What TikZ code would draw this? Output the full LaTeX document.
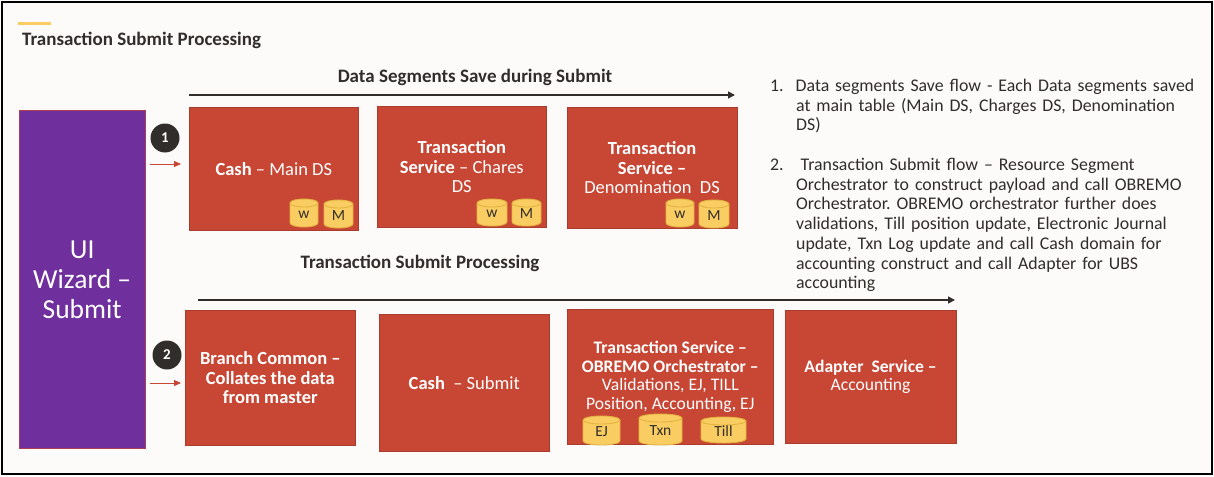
\documentclass[tikz,border=0pt]{standalone}
\usepackage{fontspec}
\setmainfont{Carlito}
\usetikzlibrary{arrows.meta}
\definecolor{redbox}{HTML}{C74634}
\definecolor{purp}{HTML}{6F2F9C}
\definecolor{paper}{HTML}{FCFBFA}
\definecolor{ink}{HTML}{312D2A}
\definecolor{gold}{HTML}{FACD62}
\definecolor{goldline}{HTML}{E2B33F}
\tikzset{
 x=1pt,y=-1pt,
 rbox/.style={draw=redbox!85!black,line width=.6pt,fill=redbox,text=white,align=center,anchor=north west,inner sep=0pt,font=\fontsize{18.5}{19.5}\selectfont},
 rboxs/.style={rbox,font=\fontsize{17.6}{18.9}\selectfont},
 wbox/.style={draw=redbox!70!purp,line width=.8pt,fill=purp,text=white,align=center,anchor=north west,inner sep=0pt,font=\fontsize{27.5}{30}\selectfont},
 dbshape/.style={draw=goldline,fill=gold,line width=.9pt},
 dblabel/.style={text=ink,inner sep=0pt,font=\fontsize{15.5}{16}\selectfont},
 badge/.style={circle,fill=ink,text=white,minimum size=29pt,inner sep=0pt,font=\bfseries\fontsize{15}{15}\selectfont},
 head/.style={text=ink,font=\bfseries\fontsize{19}{19}\selectfont,inner sep=0pt},
 flow/.style={draw=ink,line width=1.5pt,-{Triangle[length=7pt,width=7pt]}},
 redarr/.style={draw=redbox,line width=.8pt,-{Triangle[length=7pt,width=6pt]}},
 notes/.style={text=ink,align=left,anchor=north west,inner sep=0pt,font=\fontsize{17.8}{19.7}\selectfont\frenchspacing,text width=430pt},
}
% x0 y0 x1 y1 name label
\newcommand{\dbcyl}[6]{%
 \pgfmathsetmacro{\rx}{(#3-#1)/2}
 \def\ry{4}
 \draw[dbshape] (#1,#2+\ry) arc[start angle=180,end angle=0,x radius=\rx pt,y radius=\ry pt] -- (#3,#4-\ry) arc[start angle=0,end angle=-180,x radius=\rx pt,y radius=\ry pt] -- cycle;
 \draw[dbshape,fill=none] (#1,#2+\ry) arc[start angle=180,end angle=360,x radius=\rx pt,y radius=\ry pt];
 \node[dblabel] (#5) at ({(#1+#3)/2},{(#2+#4)/2+1.5}) {#6};
}
\begin{document}
\begin{tikzpicture}
\useasboundingbox (0,0) rectangle (1214,476);
\fill[paper] (0,0) rectangle (1214,476);
\draw[black,line width=2pt] (2,2) rectangle (1212,474);
\fill[gold] (18,22) rectangle (51,25);
\node[head,anchor=west] (title) at (22,40) {Transaction Submit Processing};
\node[head,anchor=center] (h1) at (475,77) {Data Segments Save during Submit};
\node[head,anchor=center] (h2) at (420,263) {Transaction Submit Processing};
\coordinate (a1s) at (189,95);\coordinate (a1e) at (735,95);
\draw[flow] (a1s) -- (a1e);
\coordinate (a2s) at (198,300);\coordinate (a2e) at (955,300);
\draw[flow] (a2s) -- (a2e);
\node[wbox,minimum width=126.5pt,minimum height=337pt] (ui) at (18.5,110.5) {UI\\Wizard --\\Submit};
\node[badge] (b1) at (165,138) {1};
\node[badge] (b2) at (167,355) {2};
\node[rbox,minimum width=169pt,minimum height=123pt] (m1) at (189,107) {\textbf{Cash} -- Main DS};
\node[rbox,minimum width=169pt,minimum height=121pt] (m2) at (377,106) {\textbf{Transaction}\\\textbf{Service} -- Chares\\DS};
\node[rbox,minimum width=169.5pt,minimum height=121pt] (m3) at (567,107) {\textbf{Transaction}\\\textbf{Service --}\\Denomination~ DS};
\node[rbox,minimum width=170pt,minimum height=135pt] (s1) at (185,310) {\textbf{Branch Common --}\\\textbf{Collates the data}\\\textbf{from master}};
\node[rbox,minimum width=170pt,minimum height=137pt] (s2) at (379,314) {\textbf{Cash} ~-- Submit};
\node[rboxs,minimum width=206pt,minimum height=135pt] (s3) at (567,309) {\textbf{Transaction Service --}\\\textbf{OBREMO Orchestrator --}\\Validations, EJ, TILL\\Position, Accounting, EJ};
\node[rboxs,minimum width=170.5pt,minimum height=133pt] (s4) at (785,310) {\textbf{Adapter ~Service --}\\Accounting};
\coordinate (r1s) at (150,164);\coordinate (r1e) at (181,164);
\draw[redarr] (r1s) -- (r1e);
\coordinate (r2s) at (150,383);\coordinate (r2e) at (181,383);
\draw[redarr] (r2s) -- (r2e);
\dbcyl{290}{199}{318}{227}{w1}{w}
\dbcyl{324}{200}{353}{228}{M1}{M}
\dbcyl{477}{199}{507}{226}{w2}{w}
\dbcyl{512}{199}{541}{226}{M2}{M}
\dbcyl{666}{199}{694}{227}{w3}{w}
\dbcyl{699}{200}{729}{228}{M3}{M}
\dbcyl{583}{416}{620}{445}{ej}{EJ}
\dbcyl{639}{414}{682}{445}{txn}{Txn}
\dbcyl{701}{417}{746}{443}{till}{Till}
\node[notes] (n1) at (770,79) {1.\hspace{12pt}Data segments Save flow - Each Data segments saved\\\hspace{26pt}at main table (Main DS, Charges DS, Denomination\\\hspace{26pt}DS)};
\node[notes] (n2) at (770,158) {2.\hspace{17pt}Transaction Submit flow -- Resource Segment\\\hspace{26pt}Orchestrator to construct payload and call OBREMO\\\hspace{26pt}Orchestrator. OBREMO orchestrator further does\\\hspace{26pt}validations, Till position update, Electronic Journal\\\hspace{26pt}update, Txn Log update and call Cash domain for\\\hspace{26pt}accounting construct and call Adapter for UBS\\\hspace{26pt}accounting};
\end{tikzpicture}
\end{document}
